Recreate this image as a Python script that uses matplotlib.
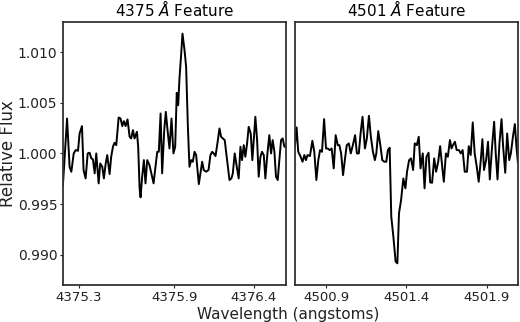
import matplotlib

matplotlib.use("Agg")

import matplotlib.pyplot as plt  # noqa: E402
import numpy as np  # noqa: E402
from matplotlib.ticker import FormatStrFormatter  # noqa: E402

# 4375 A feature (emission-like bump)
wave_4375 = [
    4375.199, 4375.225, 4375.241, 4375.252, 4375.267, 4375.279, 4375.294, 4375.304,
    4375.319, 4375.329, 4375.342, 4375.355, 4375.367, 4375.378, 4375.388, 4375.399,
    4375.409, 4375.424, 4375.434, 4375.447, 4375.457, 4375.468, 4375.478, 4375.493,
    4375.503, 4375.514, 4375.524, 4375.535, 4375.550, 4375.562, 4375.573, 4375.583,
    4375.594, 4375.606, 4375.619, 4375.629, 4375.640, 4375.650, 4375.665, 4375.673,
    4375.682, 4375.688, 4375.698, 4375.709, 4375.719, 4375.730, 4375.744, 4375.757,
    4375.770, 4375.782, 4375.793, 4375.803, 4375.814, 4375.824, 4375.837, 4375.847,
    4375.858, 4375.870, 4375.883, 4375.895, 4375.906, 4375.916, 4375.925, 4375.933,
    4375.944, 4375.952, 4375.965, 4375.975, 4375.986, 4375.996, 4376.007, 4376.017,
    4376.028, 4376.038, 4376.055, 4376.065, 4376.076, 4376.086, 4376.101, 4376.116,
    4376.128, 4376.139, 4376.149, 4376.160, 4376.172, 4376.185, 4376.195, 4376.206,
    4376.218, 4376.233, 4376.248, 4376.260, 4376.269, 4376.281, 4376.294, 4376.306,
    4376.317, 4376.327, 4376.338, 4376.348, 4376.359, 4376.369, 4376.382, 4376.392,
    4376.401, 4376.411, 4376.422, 4376.432, 4376.443, 4376.453, 4376.464, 4376.474,
    4376.487, 4376.499, 4376.510, 4376.520, 4376.531, 4376.541, 4376.552, 4376.562,
    4376.573, 4376.583, 4376.594, 4376.604,
]
flux_4375 = [
    0.99687, 1.00345, 0.99868, 0.99819, 1.00000, 1.00033, 1.00026, 1.00197,
    1.00270, 0.99836, 0.99753, 1.00000, 1.00007, 0.99951, 0.99941, 0.99803,
    1.00000, 0.99704, 0.99901, 0.99868, 0.99753, 0.99895, 0.99984, 0.99796,
    0.99967, 1.00066, 1.00105, 1.00082, 1.00355, 1.00345, 1.00270, 1.00319,
    1.00270, 1.00336, 1.00165, 1.00148, 1.00230, 1.00148, 1.00214, 1.00066,
    0.99655, 0.99566, 0.99770, 0.99934, 0.99704, 0.99934, 0.99885, 0.99796,
    0.99704, 0.99868, 1.00016, 1.00016, 1.00395, 0.99803, 1.00230, 1.00411,
    1.00230, 1.00049, 1.00345, 1.00000, 1.00066, 1.00599, 1.00477, 1.00740,
    1.00987, 1.01184, 1.01020, 1.00855, 1.00263, 0.99868, 0.99934, 0.99918,
    1.00016, 0.99984, 0.99697, 0.99803, 0.99918, 0.99836, 0.99819, 0.99836,
    0.99984, 1.00016, 1.00000, 0.99974, 1.00099, 1.00247, 1.00165, 1.00148,
    1.00132, 0.99934, 0.99737, 0.99753, 0.99803, 1.00000, 0.99868, 0.99753,
    1.00066, 0.99934, 1.00082, 0.99967, 1.00099, 1.00263, 1.00197, 0.99934,
    1.00132, 1.00362, 1.00132, 0.99770, 0.99967, 1.00016, 0.99984, 0.99753,
    1.00000, 1.00181, 1.00000, 1.00132, 1.00016, 0.99770, 0.99737, 0.99934,
    1.00132, 1.00148, 1.00066, 1.00066,
]

# 4501 A feature (absorption dip)
wave_4501 = [
    4500.706, 4500.717, 4500.727, 4500.742, 4500.754, 4500.765, 4500.775, 4500.785,
    4500.800, 4500.815, 4500.827, 4500.840, 4500.852, 4500.863, 4500.875, 4500.888,
    4500.900, 4500.910, 4500.923, 4500.935, 4500.948, 4500.960, 4500.973, 4500.983,
    4500.994, 4501.006, 4501.017, 4501.029, 4501.042, 4501.054, 4501.067, 4501.081,
    4501.092, 4501.104, 4501.115, 4501.127, 4501.142, 4501.154, 4501.167, 4501.179,
    4501.192, 4501.204, 4501.213, 4501.225, 4501.238, 4501.250, 4501.263, 4501.275,
    4501.285, 4501.296, 4501.306, 4501.319, 4501.333, 4501.344, 4501.354, 4501.367,
    4501.381, 4501.394, 4501.404, 4501.417, 4501.429, 4501.442, 4501.452, 4501.465,
    4501.477, 4501.488, 4501.502, 4501.513, 4501.525, 4501.538, 4501.548, 4501.560,
    4501.573, 4501.585, 4501.598, 4501.610, 4501.623, 4501.633, 4501.646, 4501.658,
    4501.671, 4501.681, 4501.690, 4501.702, 4501.713, 4501.727, 4501.738, 4501.750,
    4501.763, 4501.777, 4501.788, 4501.800, 4501.813, 4501.825, 4501.838, 4501.850,
    4501.863, 4501.873, 4501.883, 4501.896, 4501.908, 4501.919, 4501.933, 4501.946,
    4501.956, 4501.967, 4501.979, 4501.992, 4502.002, 4502.015, 4502.027, 4502.040,
    4502.050, 4502.063, 4502.075, 4502.085, 4502.094,
]
flux_4501 = [
    1.00066, 1.00257, 1.00016, 0.99967, 0.99918, 0.99984, 0.99934, 0.99984,
    0.99974, 1.00125, 1.00016, 0.99737, 0.99934, 1.00033, 1.00016, 1.00339,
    1.00049, 1.00049, 1.00033, 1.00049, 0.99852, 1.00181, 1.00082, 1.00082,
    1.00000, 0.99786, 0.99934, 1.00082, 1.00099, 1.00000, 1.00082, 1.00181,
    1.00000, 1.00000, 1.00197, 1.00362, 1.00049, 1.00148, 1.00372, 1.00165,
    1.00016, 0.99934, 1.00000, 1.00220, 1.00082, 0.99934, 0.99918, 0.99918,
    1.00033, 1.00056, 0.99375, 0.99178, 0.98931, 0.98914, 0.99408, 0.99539,
    0.99753, 0.99655, 0.99819, 0.99934, 0.99951, 0.99836, 1.00099, 1.00082,
    1.00165, 0.99852, 1.00000, 0.99655, 0.99967, 1.00007, 0.99714, 0.99710,
    0.99951, 0.99819, 0.99918, 1.00072, 0.99868, 0.99720, 1.00000, 0.99967,
    1.00132, 1.00049, 1.00082, 1.00115, 1.00033, 1.00033, 1.00000, 1.00033,
    0.99819, 0.99819, 1.00072, 0.99984, 1.00306, 1.00000, 0.99868, 0.99720,
    0.99934, 1.00141, 0.99836, 0.99934, 1.00115, 0.99743, 1.00066, 1.00313,
    1.00000, 0.99743, 1.00099, 1.00339, 1.00066, 0.99809, 1.00197, 0.99934,
    1.00000, 1.00165, 1.00290, 1.00066, 0.99908,
]

ticks_4375 = [4375.3, 4375.9, 4376.4]
ticks_4501 = [4500.9, 4501.4, 4501.9]
flux_ticks = [0.990, 0.995, 1.000, 1.005, 1.010]

_SPINE = "#333333"
_TEXT = "#222222"

fig = plt.figure(figsize=(5.2, 3.22), dpi=100)
ax1 = fig.add_axes([0.121, 0.115, 0.429, 0.817])
ax2 = fig.add_axes([0.567, 0.115, 0.429, 0.817], sharey=ax1)

panels = [
    (ax1, wave_4375, flux_4375, ticks_4375, "4375 $\\AA$ Feature"),
    (ax2, wave_4501, flux_4501, ticks_4501, "4501 $\\AA$ Feature"),
]
for ax, wave, flux, ticks, title in panels:
    ax.plot(np.array(wave), np.array(flux), color="black", linewidth=1.4)
    ax.set_xlim(wave[0], wave[-1])
    ax.set_xticks(ticks)
    ax.xaxis.set_major_formatter(FormatStrFormatter("%.1f"))
    ax.set_title(title, fontsize=11, pad=4)
    ax.tick_params(labelsize=9.5, colors=_TEXT, length=2.5, pad=1.5)
    for spine in ax.spines.values():
        spine.set_color(_SPINE)
        spine.set_linewidth(1.3)

ax1.set_ylim(0.987, 1.013)
ax1.set_yticks(flux_ticks)
ax1.yaxis.set_major_formatter(FormatStrFormatter("%.3f"))
ax1.tick_params(axis="y", labelsize=10)
ax2.tick_params(axis="y", left=False, labelleft=False)

fig.text(0.015, 0.524, "Relative Flux", rotation=90, va="center", ha="center",
         fontsize=12, color=_TEXT)
fig.text(0.554, 0.0, "Wavelength (angstoms)", va="bottom", ha="center",
         fontsize=11, color=_TEXT)

fig.savefig("out.png", dpi=100)
plt.close("all")
